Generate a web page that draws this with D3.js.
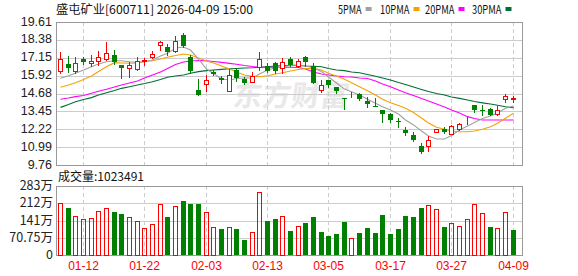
<!DOCTYPE html>
<html>
<head>
<meta charset="utf-8">
<script src="https://cdn.jsdelivr.net/npm/d3@7"></script>
<style>
  body { margin: 0; background: #fff; }
  svg { display: block; }
</style>
</head>
<body>
<svg id="chart" width="578" height="276"></svg>
<script>
// daily candles, 60 sessions ending 2026-04-09
var opens  = [16.26,16.74,16.24,17.06,16.77,16.94,17.08,17.34,16.63,16.45,
              16.39,16.90,17.18,18.00,17.91,17.61,18.71,17.18,14.93,15.32,
              16.19,15.73,14.88,16.30,15.71,15.50,16.53,16.58,16.81,16.42,
              17.06,16.58,17.18,16.60,14.93,15.61,15.11,14.36,14.63,14.63,
              14.17,13.84,13.55,13.27,12.82,12.17,11.83,11.07,11.07,12.01,
              12.22,11.88,12.22,12.66,13.89,13.58,13.60,13.29,14.29,14.33];
var highs  = [17.52,17.27,17.18,17.20,17.36,17.61,18.23,17.68,16.66,16.85,
              17.18,17.11,17.62,18.30,18.08,18.64,18.87,17.34,15.66,15.96,
              16.30,15.89,16.35,16.42,15.80,16.19,17.52,16.81,16.88,17.11,
              17.18,17.04,17.27,16.77,15.61,15.62,15.12,14.37,14.81,14.70,
              14.46,14.36,13.56,13.36,12.98,12.36,12.03,11.30,11.76,12.26,
              12.36,12.52,12.67,13.09,13.90,13.89,13.68,13.82,14.65,14.51];
var lows   = [16.12,16.19,16.12,16.74,16.56,16.65,16.99,16.74,15.78,15.85,
              16.30,16.65,17.12,17.68,17.36,17.56,17.87,16.12,14.58,14.88,
              15.96,15.39,14.88,15.55,15.34,15.46,16.30,16.19,16.08,16.12,
              16.58,16.53,16.58,15.43,14.81,15.15,14.74,13.60,14.42,14.24,
              13.78,13.80,12.70,12.74,12.40,11.83,11.43,10.61,10.74,12.00,
              11.94,11.87,12.17,12.58,13.43,13.20,13.20,13.20,14.08,14.08];
var closes = [17.04,16.46,16.77,16.88,16.94,17.18,17.45,16.88,16.44,16.62,
              16.94,16.97,17.38,18.23,17.56,18.32,17.96,16.24,14.59,15.61,
              16.03,15.61,15.96,15.73,15.43,15.89,17.04,16.26,16.22,16.88,
              16.65,16.92,16.88,15.43,15.28,15.26,14.88,14.33,14.65,14.29,
              13.96,13.82,13.25,12.86,12.79,11.94,11.48,10.68,11.48,12.22,
              12.05,12.45,12.58,12.68,13.52,13.55,13.20,13.55,14.51,14.36];
// volume in 万 shares
var volumes = [212,193,158,146,150,179,191,176,168,154,
               138,109,127,208,156,200,221,209,209,175,
               113,107,113,107, 62, 93,260,139,148,159,
                98,119,133,156, 96, 78, 87,137, 70, 92,
               112, 92,165, 87,107,161,156,194,205,189,
               115,131,119,148,209,172,115,111,176,102.3491];

var ma5  = [15.73,15.91,16.08,16.30,16.53,16.72,16.87,16.94,16.94,16.87,
            16.83,16.87,16.99,17.27,17.45,17.82,17.89,17.68,17.06,16.37,
            16.06,15.68,15.62,15.72,15.75,15.75,16.03,16.30,16.46,16.53,
            16.61,16.65,16.60,16.44,16.20,15.82,15.41,14.99,14.81,14.58,
            14.29,14.01,13.78,13.55,13.27,12.86,12.52,12.10,11.76,11.55,
            11.55,11.79,12.17,12.45,12.69,12.96,13.14,13.34,13.67,13.82];
var ma10 = [15.11,15.27,15.43,15.65,15.89,16.20,16.53,16.81,16.79,16.77,
            16.79,16.89,16.94,17.06,17.18,17.30,17.41,17.34,17.13,16.93,
            16.79,16.58,16.37,16.17,15.96,15.87,15.84,15.91,16.03,16.12,
            16.24,16.34,16.41,16.42,16.30,16.08,15.89,15.66,15.43,15.15,
            14.88,14.58,14.29,14.05,13.86,13.67,13.38,13.00,12.65,12.36,
            12.22,12.10,12.05,12.05,12.10,12.22,12.40,12.63,12.98,13.32];
var ma20 = [14.29,14.38,14.47,14.55,14.70,14.84,14.98,15.13,15.27,15.41,
            15.55,15.75,15.96,16.17,16.41,16.68,16.85,16.92,16.96,16.94,
            16.89,16.83,16.76,16.70,16.61,16.54,16.49,16.49,16.49,16.49,
            16.49,16.48,16.37,16.17,16.03,15.96,15.89,15.84,15.82,15.75,
            15.72,15.55,15.34,15.15,14.93,14.74,14.55,14.34,14.17,13.96,
            13.76,13.55,13.34,13.09,12.96,12.86,12.86,12.86,12.86,12.86];
var ma30 = [13.73,13.93,14.12,14.27,14.40,14.58,14.74,14.89,15.04,15.15,
            15.27,15.37,15.50,15.65,15.80,15.89,15.96,16.08,16.19,16.26,
            16.30,16.35,16.39,16.41,16.44,16.46,16.49,16.53,16.58,16.60,
            16.63,16.61,16.58,16.56,16.53,16.41,16.30,16.26,16.17,16.11,
            15.99,15.87,15.75,15.62,15.44,15.30,15.13,14.96,14.82,14.69,
            14.58,14.44,14.35,14.24,14.13,14.04,13.96,13.87,13.77,13.70];

var priceTicks = [19.61, 18.38, 17.15, 15.92, 14.68, 13.45, 12.22, 10.99, 9.76];
var volTicks = [0, 70.75, 141, 212, 283];
var volTickText = ["0", "70.75万", "141万", "212万", "283万"];
var dateIdx = [3, 11, 19, 27, 35, 43, 51, 59];
var dateText = ["01-12", "01-22", "02-03", "02-13", "03-05", "03-17", "03-27", "04-09"];
var maNames = ["5PMA", "10PMA", "20PMA", "30PMA"];
var maColors = ["#a0a0a0", "#f5a200", "#ff00ff", "#006e36"];

var RED = "#ff0000", GREEN = "#008000";
var left = 56, right = 522;
var svg = d3.select("#chart");
var font = "'Liberation Sans', Arial, sans-serif";
var cjk = "'Noto Sans CJK SC', 'Liberation Sans', sans-serif";

var x = d3.scaleBand().domain(d3.range(closes.length)).range([56.5, 517]);
var y = d3.scaleLinear().domain([9.76, 19.61]).range([165, 22]);
var yv = d3.scaleLinear().domain([0, 283]).range([255, 186]);

function cx(i) { return Math.round(x(i) + x.bandwidth() / 2 - 0.5); }
function px(v) { return Math.round(v); }

// watermark
svg.append("text")
  .attr("x", 233).attr("y", 106)
  .attr("font-family", cjk).attr("font-size", 29).attr("font-weight", "bold")
  .attr("fill", "#e8e8e8")
  .attr("transform", "skewX(-8) translate(14,0)")
  .text("东方财富");

// grids
function drawPanel(top, bottom, ticks, sc) {
  var g = svg.append("g").attr("shape-rendering", "crispEdges");
  g.selectAll(".h").data(ticks).enter().append("line")
    .attr("x1", left).attr("x2", right)
    .attr("y1", function(d) { return px(sc(d)) + 0.5; })
    .attr("y2", function(d) { return px(sc(d)) + 0.5; })
    .attr("stroke", "#cccccc");
  g.selectAll(".v").data(dateIdx).enter().append("line")
    .attr("x1", function(d) { return cx(d) + 0.5; })
    .attr("x2", function(d) { return cx(d) + 0.5; })
    .attr("y1", top).attr("y2", bottom)
    .attr("stroke", "#cccccc").attr("stroke-dasharray", "4,3");
  g.append("rect")
    .attr("x", left + 0.5).attr("y", top + 0.5)
    .attr("width", right - left).attr("height", bottom - top)
    .attr("fill", "none").attr("stroke", "#999999");
}
drawPanel(22, 165, priceTicks, y);
drawPanel(186, 255, volTicks, yv);

// price labels
svg.append("g").selectAll("text").data(priceTicks).enter().append("text")
  .attr("x", 52).attr("y", function(d) { return y(d) + 3.5; })
  .attr("text-anchor", "end")
  .attr("font-family", font).attr("font-size", 12.5).attr("fill", "#222")
  .text(function(d) { return d.toFixed(2); });

// volume labels
svg.append("g").selectAll("text").data(volTicks).enter().append("text")
  .attr("x", 53).attr("y", function(d) { return yv(d) + 4; })
  .attr("text-anchor", "end")
  .attr("font-family", cjk).attr("font-size", 12.5).attr("fill", "#222")
  .text(function(d, i) { return volTickText[i]; });

// date labels
svg.append("g").selectAll("text").data(dateIdx).enter().append("text")
  .attr("x", function(d) { return cx(d) + 0.5; }).attr("y", 270)
  .attr("text-anchor", "middle")
  .attr("font-family", font).attr("font-size", 12).attr("fill", RED)
  .text(function(d, i) { return dateText[i]; });

// moving averages
var mas = [ma5, ma10, ma20, ma30];
var line = d3.line()
  .x(function(d, i) { return cx(i) + 0.5; })
  .y(function(d) { return y(d); });
svg.append("g").selectAll("path").data(mas.slice().reverse()).enter().append("path")
  .attr("d", line)
  .attr("fill", "none")
  .attr("stroke", function(d, i) { return maColors[3 - i]; })
  .attr("stroke-width", 1.1);

// candles
var candles = svg.append("g").attr("shape-rendering", "crispEdges")
  .selectAll("g").data(closes).enter().append("g");
candles.append("line")
  .attr("x1", function(d, i) { return cx(i) + 0.5; })
  .attr("x2", function(d, i) { return cx(i) + 0.5; })
  .attr("y1", function(d, i) { return px(y(highs[i])); })
  .attr("y2", function(d, i) { return px(y(lows[i])) + 1; })
  .attr("stroke", function(d, i) { return d >= opens[i] ? RED : GREEN; });
candles.append("rect")
  .attr("x", function(d, i) { return d >= opens[i] ? cx(i) - 1.5 : cx(i) - 2; })
  .attr("y", function(d, i) {
    var t = px(y(Math.max(d, opens[i])));
    return d >= opens[i] ? t + 0.5 : t;
  })
  .attr("width", function(d, i) { return d >= opens[i] ? 4 : 5; })
  .attr("height", function(d, i) {
    var h = px(y(Math.min(d, opens[i]))) - px(y(Math.max(d, opens[i])));
    return d >= opens[i] ? Math.max(h, 0) : Math.max(h, 1);
  })
  .attr("fill", function(d, i) { return d >= opens[i] ? "#fff" : GREEN; })
  .attr("stroke", function(d, i) { return d >= opens[i] ? RED : "none"; });

// volume bars, coloured against previous close
function volUp(i) { return i === 0 ? closes[0] >= opens[0] : closes[i] >= closes[i - 1]; }
svg.append("g").attr("shape-rendering", "crispEdges")
  .selectAll("rect").data(volumes).enter().append("rect")
  .attr("x", function(d, i) { return volUp(i) ? cx(i) - 1.5 : cx(i) - 2; })
  .attr("y", function(d, i) { return volUp(i) ? px(yv(d)) + 0.5 : px(yv(d)); })
  .attr("width", function(d, i) { return volUp(i) ? 4 : 5; })
  .attr("height", function(d, i) { return 255 - px(yv(d)) - (volUp(i) ? 0.5 : 0); })
  .attr("fill", function(d, i) { return volUp(i) ? "none" : GREEN; })
  .attr("stroke", function(d, i) { return volUp(i) ? RED : "none"; });

// title and volume caption
svg.append("text")
  .attr("x", 56).attr("y", 14)
  .attr("font-family", cjk).attr("font-size", 12).attr("fill", "#111")
  .attr("textLength", 197).attr("lengthAdjust", "spacingAndGlyphs")
  .text("盛屯矿业[600711] 2026-04-09 15:00");
svg.append("text")
  .attr("x", 58).attr("y", 181)
  .attr("font-family", cjk).attr("font-size", 12).attr("fill", "#111")
  .text("成交量:" + Math.round(volumes[volumes.length - 1] * 10000));

// legend
var legX = [338, 380, 425, 472];
var leg = svg.append("g").selectAll("g").data(maNames).enter().append("g");
leg.append("text")
  .attr("x", function(d, i) { return legX[i]; }).attr("y", 14)
  .attr("font-family", cjk).attr("font-size", 12).attr("fill", "#111")
  .attr("textLength", function(d) { return d.length * 5.9; })
  .attr("lengthAdjust", "spacingAndGlyphs")
  .text(function(d) { return d; });
leg.append("rect")
  .attr("x", function(d, i) { return legX[i] + d.length * 5.9 + 4; }).attr("y", 7)
  .attr("width", 6).attr("height", 4)
  .attr("fill", function(d, i) { return maColors[i]; });
</script>
</body>
</html>
